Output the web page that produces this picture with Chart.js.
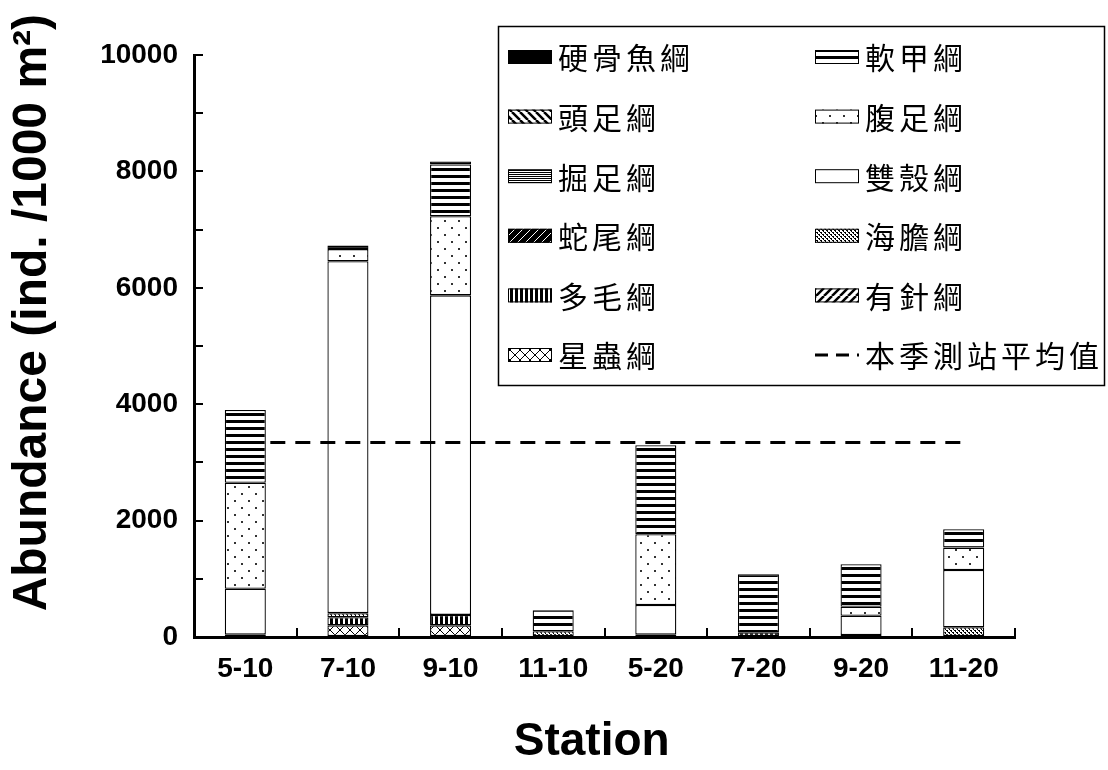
<!DOCTYPE html>
<html>
<head>
<meta charset="utf-8">
<script src="https://cdn.jsdelivr.net/npm/chart.js@4.4.0/dist/chart.umd.min.js"></script>
<style>
html,body{margin:0;padding:0;background:#fff;}
#wrap{width:1108px;height:770px;}
</style>
</head>
<body>
<div id="wrap"><canvas id="c" width="1108" height="770"></canvas></div>
<script>
// ---------- data ----------
const categories = ['5-10', '7-10', '9-10', '11-10', '5-20', '7-20', '9-20', '11-20'];

const bonyFish     = [0,    0,    50,   0,   0,    0,    0,   0];    // 硬骨魚綱
const malacostraca = [1250, 60,   890,  360, 1530, 1000, 730, 316];  // 軟甲綱
const cephalopoda  = [0,    0,    0,    0,   0,    0,    0,   0];    // 頭足綱
const gastropoda   = [1820, 210,  1360, 0,   1216, 0,    155, 384];  // 腹足綱
const scaphopoda   = [0,    0,    0,    0,   0,    0,    0,   0];    // 掘足綱
const bivalvia     = [790,  6045, 5490, 0,   510,  0,    330, 985];  // 雙殼綱
const ophiuroidea  = [0,    0,    0,    0,   0,    0,    0,   0];    // 蛇尾綱
const echinoidea   = [0,    70,   0,    100, 0,    0,    0,   167];  // 海膽綱
const polychaeta   = [40,   140,  180,  0,   40,   80,   35,  0];    // 多毛綱
const echinozoa    = [0,    0,    0,    0,   0,    0,    0,   0];    // 有針綱
const sipuncula    = [0,    200,  200,  0,   0,    0,    0,   0];    // 星蟲綱
const seasonAverage = [3340, 3340, 3340, 3340, 3340, 3340, 3340, 3340]; // 本季測站平均值

const seriesNames = ['硬骨魚綱', '軟甲綱', '頭足綱', '腹足綱', '掘足綱', '雙殼綱',
                     '蛇尾綱', '海膽綱', '多毛綱', '有針綱', '星蟲綱'];
const averageName = '本季測站平均值';
const xTitle = 'Station';
const yTitle = 'Abundance (ind. /1000 m²)';

// ---------- patterns ----------
function makePattern(w, h, draw) {
  const c = document.createElement('canvas');
  c.width = w; c.height = h;
  const g = c.getContext('2d');
  g.fillStyle = '#fff'; g.fillRect(0, 0, w, h);
  g.fillStyle = '#000'; g.strokeStyle = '#000';
  draw(g, w, h);
  return document.getElementById('c').getContext('2d').createPattern(c, 'repeat');
}
const patSolid = '#000000';
const patHThick = makePattern(4, 7, g => g.fillRect(0, 0, 4, 3));
const patBack = makePattern(8, 8, g => { g.lineWidth = 2.5; g.beginPath();
  for (const o of [-8, 0, 8]) { g.moveTo(o, 0); g.lineTo(o + 8, 8); } g.stroke(); });
const patDots = makePattern(14, 14, g => { g.fillStyle = '#333'; g.fillRect(3, 3, 2, 2); g.fillRect(10, 10, 2, 2); });
const patHThin = makePattern(1, 2, g => g.fillRect(0, 0, 1, 1));
const patWhite = '#ffffff';
const patOphi = makePattern(8, 8, g => { g.fillRect(0, 0, 8, 8); g.strokeStyle = '#fff'; g.lineWidth = 1;
  g.beginPath(); for (const o of [-8, 0, 8]) { g.moveTo(o, 8); g.lineTo(o + 8, 0); } g.stroke(); });
const patDense = makePattern(4, 4, g => { g.fillRect(0, 0, 2, 1); g.fillRect(2, 2, 2, 1); g.fillRect(1, 1, 1, 1); g.fillRect(3, 3, 1, 1); });
const patVert = makePattern(5, 1, g => g.fillRect(0, 0, 3, 1));
const patFwd = makePattern(8, 8, g => { g.lineWidth = 2.5; g.beginPath();
  for (const o of [-8, 0, 8]) { g.moveTo(o, 8); g.lineTo(o + 8, 0); } g.stroke(); });
const patCross = makePattern(10, 10, g => { g.lineWidth = 1; g.beginPath();
  for (const o of [-10, 0, 10]) { g.moveTo(o, 0); g.lineTo(o + 10, 10); g.moveTo(o, 10); g.lineTo(o + 10, 0); } g.stroke(); });

// legend order (top of stack first)
const seriesValues = [bonyFish, malacostraca, cephalopoda, gastropoda, scaphopoda, bivalvia,
                      ophiuroidea, echinoidea, polychaeta, echinozoa, sipuncula];
const seriesFills = [patSolid, patHThick, patBack, patDots, patHThin, patWhite,
                     patOphi, patDense, patVert, patFwd, patCross];

const barDatasets = [];
for (let i = seriesNames.length - 1; i >= 0; i--) {
  barDatasets.push({
    type: 'bar',
    label: seriesNames[i],
    data: seriesValues[i],
    backgroundColor: seriesFills[i],
    borderColor: '#000',
    borderWidth: 1.3,
    borderSkipped: false,
    barPercentage: 0.4,
    categoryPercentage: 1.0,
    stack: 'bars',
    order: 1
  });
}
const lineDataset = {
  type: 'line',
  label: averageName,
  data: seasonAverage,
  borderColor: '#000',
  borderWidth: 3,
  borderDash: [15, 10],
  pointRadius: 0,
  fill: false,
  stack: 'avg',
  order: 0
};

// ---------- custom legend ----------
const legendPlugin = {
  id: 'boxLegend',
  afterDraw(chart) {
    const ctx = chart.ctx;
    ctx.save();
    const bx = 498, by = 26, bw = 606, bh = 359;
    ctx.fillStyle = '#fff';
    ctx.fillRect(bx, by, bw, bh);
    ctx.lineWidth = 1.5; ctx.strokeStyle = '#000';
    ctx.strokeRect(bx + 0.5, by + 0.5, bw, bh);
    const entries = seriesNames.map((n, i) => ({ name: n, fill: seriesFills[i], line: false }));
    entries.push({ name: averageName, line: true });
    ctx.font = '30px "Noto Sans CJK TC"';
    ctx.textBaseline = 'middle';
    ctx.textAlign = 'left';
    try { ctx.letterSpacing = '4px'; } catch (e) {}
    entries.forEach((e, i) => {
      const col = i % 2, row = Math.floor(i / 2);
      const sx = col === 0 ? 508 : 815;
      const cy = 57 + 59.6 * row;
      if (e.line) {
        ctx.strokeStyle = '#000'; ctx.lineWidth = 3;
        ctx.setLineDash([13, 8]);
        ctx.beginPath(); ctx.moveTo(sx, cy); ctx.lineTo(sx + 44, cy); ctx.stroke();
        ctx.setLineDash([]);
      } else {
        ctx.fillStyle = e.fill;
        ctx.fillRect(sx, cy - 7, 44, 14);
        ctx.strokeStyle = '#000'; ctx.lineWidth = 1;
        ctx.strokeRect(sx + 0.5, cy - 6.5, 43, 13);
      }
      ctx.fillStyle = '#000';
      ctx.fillText(e.name, sx + 50, cy + 1);
    });
    ctx.restore();
  }
};

const tickFont = { family: '"Liberation Sans", Arial, sans-serif', weight: 'bold', size: 28 };

new Chart(document.getElementById('c'), {
  type: 'bar',
  data: { labels: categories, datasets: [...barDatasets, lineDataset] },
  options: {
    responsive: false,
    animation: false,
    layout: { padding: { left: 0, top: 55, right: 93, bottom: 0 } },
    plugins: { legend: { display: false }, tooltip: { enabled: false } },
    scales: {
      x: {
        stacked: true,
        offset: true,
        grid: { display: true, drawOnChartArea: false, drawTicks: true, tickLength: -9, lineWidth: 2, color: '#000', offset: true },
        border: { display: true, width: 3, color: '#000' },
        ticks: { font: tickFont, color: '#000', padding: 24, maxRotation: 0, autoSkip: false },
        title: { display: true, text: xTitle + '  ', color: '#000',
                 font: { family: '"Liberation Sans", Arial, sans-serif', weight: 'bold', size: 46 },
                 padding: { top: 0, bottom: 0 } },
        afterFit: s => { s.height = 133; }
      },
      y: {
        stacked: true,
        min: 0, max: 10000,
        grid: { display: true, drawOnChartArea: false, drawTicks: true, tickLength: -9, lineWidth: 2, color: '#000' },
        border: { display: true, width: 3, color: '#000' },
        ticks: { stepSize: 1000, font: tickFont, color: '#000', padding: 25, autoSkip: false,
                 callback: v => (v % 2000 === 0 ? String(v) : '') },
        title: { display: true, text: '     ' + yTitle, color: '#000',
                 font: { family: '"Liberation Sans", Arial, sans-serif', weight: 'bold', size: 48 },
                 padding: { top: 4, bottom: 0 } },
        afterFit: s => { s.width = 194; }
      }
    }
  },
  plugins: [legendPlugin]
});
</script>
</body>
</html>
